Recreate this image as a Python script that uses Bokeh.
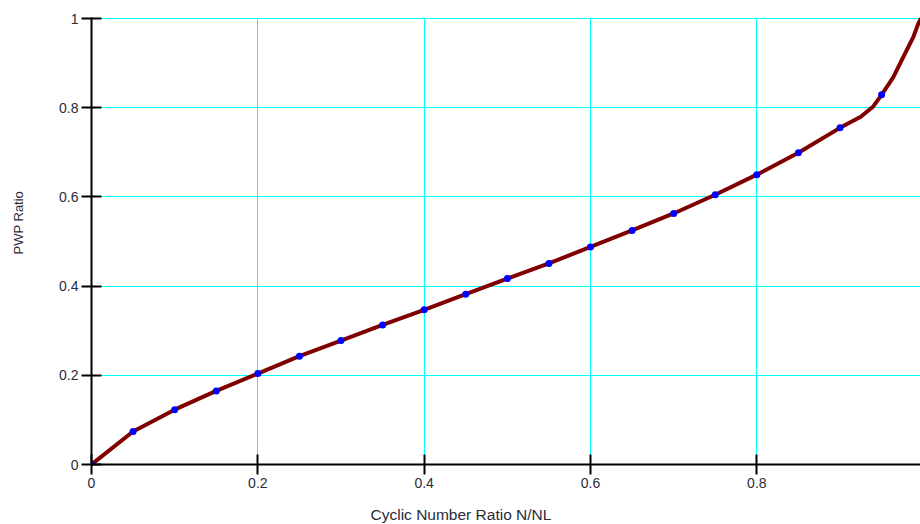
from bokeh.plotting import figure
from bokeh.models import Range1d, FixedTicker, Title
from bokeh.embed import file_html
from bokeh.resources import INLINE

# Sampled points on the PWP curve (blue markers every 0.05 of N/NL)
n_ratio = [0.00, 0.05, 0.10, 0.15, 0.20, 0.25, 0.30, 0.35, 0.40, 0.45,
           0.50, 0.55, 0.60, 0.65, 0.70, 0.75, 0.80, 0.85, 0.90, 0.95]
pwp_ratio = [0.000, 0.074, 0.123, 0.165, 0.204, 0.243, 0.278, 0.313, 0.347, 0.382,
             0.417, 0.451, 0.488, 0.525, 0.563, 0.605, 0.650, 0.699, 0.755, 0.829]

# Additional points describing the steep tail of the curve
tail_n = [0.925, 0.940, 0.964, 0.978, 0.988, 0.994, 1.000]
tail_pwp = [0.780, 0.803, 0.868, 0.921, 0.958, 0.988, 1.010]

# Axis ticks and their labels
x_ticks = [0, 0.2, 0.4, 0.6, 0.8, 1]
x_tick_labels = ["0", "0.2", "0.4", "0.6", "0.8", "1"]
y_ticks = [0, 0.2, 0.4, 0.6, 0.8, 1]
y_tick_labels = ["0", "0.2", "0.4", "0.6", "0.8", "1"]

x_title = "Cyclic Number Ratio N/NL"
y_title = "PWP Ratio"

curve = sorted(zip(n_ratio + tail_n, pwp_ratio + tail_pwp))
curve_x = [c[0] for c in curve]
curve_y = [c[1] for c in curve]

FONT = "Liberation Sans"
TEXT = "#2b2b3a"

p = figure(
    width=920, height=524,
    x_range=Range1d(0, 0.9968), y_range=Range1d(0, 1.0025),
    output_backend="svg", toolbar_location=None,
    min_border_left=91, min_border_right=0,
    min_border_top=17, min_border_bottom=60,
)
p.outline_line_color = None
p.background_fill_color = "white"
p.border_fill_color = "white"

for ax, ticks, labels in ((p.xaxis[0], x_ticks, x_tick_labels),
                          (p.yaxis[0], y_ticks, y_tick_labels)):
    ax.ticker = FixedTicker(ticks=ticks)
    ax.major_label_overrides = dict(zip(ticks, labels))
    ax.axis_line_color = "black"
    ax.axis_line_width = 2
    ax.major_tick_line_color = "black"
    ax.major_tick_line_width = 2
    ax.major_tick_in = 10
    ax.major_tick_out = 10
    ax.minor_tick_line_color = None
    ax.major_label_text_font = FONT
    ax.major_label_text_font_size = "14px"
    ax.major_label_text_color = TEXT
    ax.major_label_standoff = 3

p.grid.grid_line_color = "#00ffff"
p.grid.grid_line_width = 1

p.line(curve_x, curve_y, line_color="#800000", line_width=4)
p.scatter(n_ratio, pwp_ratio, size=7, fill_color="#0000ff", line_color=None)

# Blank spacer panels between the axes and their titles
p.add_layout(Title(text=" ", text_font_size="2px", standoff=7), "below")
p.add_layout(Title(text=" ", text_font_size="2px", standoff=18), "left")

# Axis titles placed in the side panels
p.add_layout(Title(
    text=x_title, align="left", offset=279, standoff=4,
    text_font=FONT, text_font_size="15.5px", text_font_style="normal",
    text_color=TEXT,
), "below")
p.add_layout(Title(
    text=y_title, align="left", offset=210, standoff=17,
    text_font=FONT, text_font_size="13px", text_font_style="normal",
    text_color=TEXT,
), "left")

open("out.html", "w").write(file_html(p, INLINE))
